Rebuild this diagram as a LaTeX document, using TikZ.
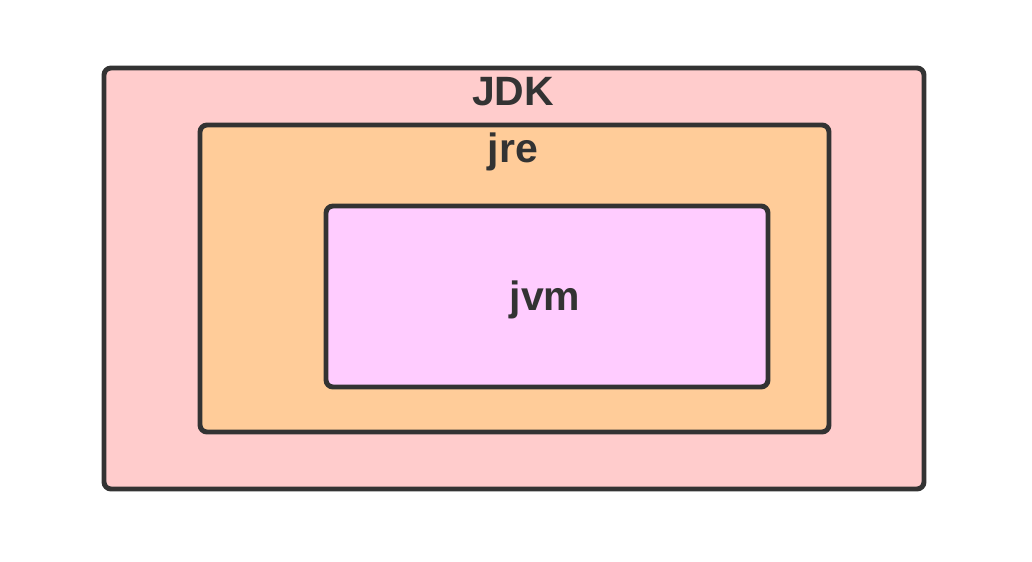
\documentclass[tikz,border=0pt]{standalone}
\usepackage{fontspec}
\setmainfont{Liberation Sans}
\usepackage{tikz}
\definecolor{edge}{HTML}{333333}
\definecolor{jdkfill}{HTML}{FFCCCC}
\definecolor{jrefill}{HTML}{FFCC99}
\definecolor{jvmfill}{HTML}{FFCCFF}
\usetikzlibrary{positioning}

\begin{document}
\begin{tikzpicture}[
    layer/.style={draw=edge, line width=2.8pt, rounded corners=4pt,
                  fill=#1, inner sep=0pt, outer sep=0pt},
    tag/.style={anchor=base, text=edge, inner sep=0pt,
                font=\fontsize{23.3}{26}\selectfont\bfseries}
]
    \useasboundingbox (0,0) rectangle (20.64,11.22);

    \node[layer=jdkfill, minimum width=16.4cm, minimum height=8.42cm] (jdk) at (10.28,5.65) {};
    \node[layer=jrefill, minimum width=12.58cm, minimum height=6.14cm] (jre) at (10.29,5.65) {};
    \node[layer=jvmfill, minimum width=8.84cm, minimum height=3.62cm] (jvm) at (10.94,5.29) {};

    \node[tag] (jdklabel) at (10.26,9.1) {JDK};
    \node[tag] (jrelabel) at (10.26,7.98) {jre};
    \node[tag] (jvmlabel) at (10.9,5.02) {jvm};
\end{tikzpicture}
\end{document}
